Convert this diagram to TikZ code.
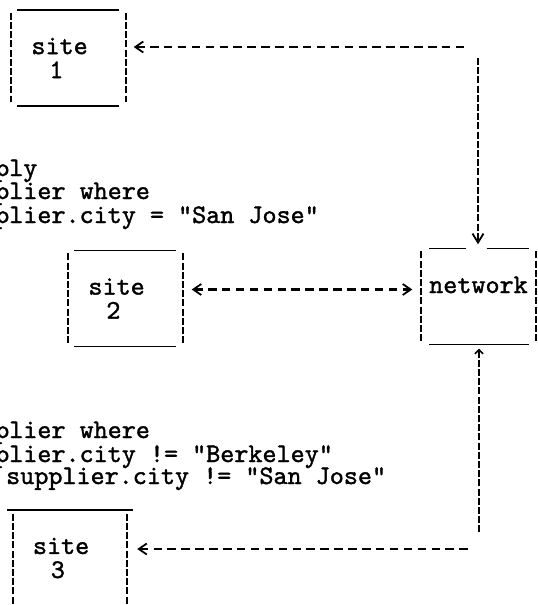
\documentclass[tikz,border=0pt]{standalone}
\usepackage{fontspec}
\newfontfamily\typer{lmmono10-regular.otf}[FakeBold=1.4]
\usetikzlibrary{arrows.meta}
\tikzset{
  txt/.style={
    font=\typer\fontsize{26.8}{24}\selectfont,
    inner sep=0pt
  },
  sitebox/.style={
    txt,
    minimum width=114pt,
    minimum height=96pt,
    inner xsep=20pt,
    text width=74pt,
    align=left
  },
  netbox/.style={
    txt,
    minimum width=114pt,
    minimum height=96pt,
    text height=16pt,
    text depth=23pt
  },
  rule/.style={line width=1.5pt},
  bar/.style={line width=1.8pt, dash pattern=on 7pt off 2.2pt},
  hlink/.style={line width=2.3pt, dash pattern=on 8.5pt off 5.4pt},
  vlink/.style={line width=2pt, dash pattern=on 7pt off 2.2pt}
}
\begin{document}
\begin{tikzpicture}[x=1pt,y=-1pt]

\useasboundingbox (0,0) rectangle (538,605);
\clip (0,0) rectangle (538,605);

\node[sitebox] (s1) at (68.5,58) {site\\\ \ 1};
\node[sitebox] (s2) at (125.5,298.5) {site\\\ \ 2};
\node[sitebox] (s3) at (70,558) {site\\\ \ 3};
\node[netbox] (net) at (478.5,296.5) {network};

\node[txt, anchor=base west] (qa1) at (-5,176) {ply};
\node[txt, anchor=base west] (qa2) at (-5,199) {plier where};
\node[txt, anchor=base west] (qa3) at (-5,223) {plier.city = "San Jose"};
\node[txt, anchor=base west] (qb1) at (-5,438) {plier where};
\node[txt, anchor=base west] (qb2) at (-5,462) {plier.city != "Berkeley"};
\node[txt, anchor=base west] (qb3) at (6,484) {supplier.city != "San Jose"};

% box edges
\draw[rule] ([xshift=6pt]s1.north west) -- ([xshift=-7pt]s1.north east);
\draw[rule] ([xshift=6pt]s1.south west) -- ([xshift=-7pt]s1.south east);
\draw[bar] ([yshift=-3pt]s1.north west) -- ([yshift=4pt]s1.south west);
\draw[bar] ([yshift=-3pt]s1.north east) -- ([yshift=4pt]s1.south east);

\draw[rule] ([xshift=6pt]s2.north west) -- ([xshift=-7pt]s2.north east);
\draw[rule] ([xshift=6pt]s2.south west) -- ([xshift=-7pt]s2.south east);
\draw[bar] ([yshift=-3pt]s2.north west) -- ([yshift=4pt]s2.south west);
\draw[bar] ([yshift=-3pt]s2.north east) -- ([yshift=4pt]s2.south east);

\draw[rule] ([xshift=-6pt]s3.north west) -- ([xshift=6pt]s3.north east);
\draw[bar] ([yshift=-4pt]s3.north west) -- (s3.south west);
\draw[bar] ([yshift=-4pt]s3.north east) -- (s3.south east);

\draw[rule] ([xshift=8pt]net.north west) -- ([xshift=-13pt]net.north);
\draw[rule] ([xshift=8pt]net.north) -- ([xshift=-7pt]net.north east);
\draw[rule] ([xshift=8pt]net.south west) -- ([xshift=-7pt]net.south east);
\draw[bar] ([yshift=-3pt]net.north west) -- ([yshift=2pt]net.south west);
\draw[bar] ([yshift=-3pt]net.north east) -- ([yshift=2pt]net.south east);

% connectors
\coordinate (c1) at (478,47);
\coordinate (c3) at (479,549);

\draw[hlink, {Straight Barb[length=8pt,width=11pt,line width=1.8pt]}-,
  shorten <=8pt, shorten >=9pt] (s1.east |- c1) -- (c1);
\draw[vlink, -{Straight Barb[length=9pt,width=11pt,line width=1.8pt]},
  shorten <=11pt, shorten >=4pt] (c1) -- (c1 |- net.north);

\draw[hlink, {Straight Barb[length=8pt,width=11pt,line width=1.8pt]}-{Straight Barb[length=8pt,width=11pt,line width=1.8pt]},
  shorten <=9pt, shorten >=9pt] ([yshift=9pt]s2.east) -- ([yshift=9pt]s2.east -| net.west);

\draw[vlink, {Straight Barb[length=4pt,width=8pt,line width=1.6pt]}-,
  shorten <=4pt, shorten >=17pt] (c3 |- net.south) -- (c3);
\draw[hlink, {Straight Barb[length=8pt,width=11pt,line width=1.8pt]}-,
  shorten <=10pt, shorten >=7pt] (s3.east |- c3) -- (c3);

\end{tikzpicture}
\end{document}
